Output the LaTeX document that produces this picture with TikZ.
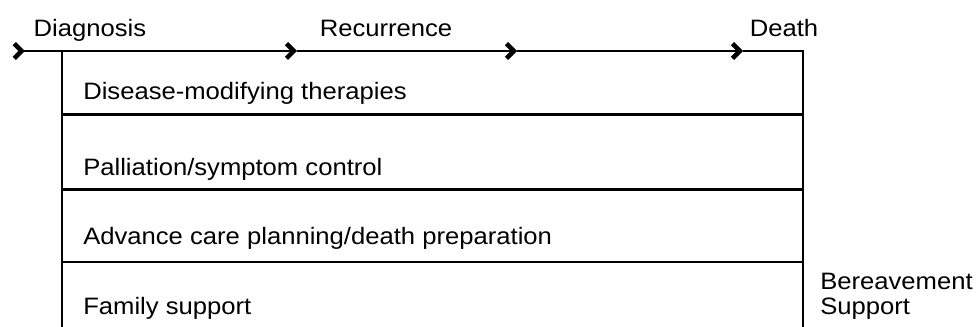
\documentclass[tikz,border=0pt]{standalone}
\usepackage{fontspec}
\setmainfont{Liberation Sans}[FakeStretch=1.08]
\usetikzlibrary{arrows.meta, positioning}

\begin{document}
\begin{tikzpicture}[
  x=0.75pt, y=-0.75pt,
  lbl/.style={anchor=base, inner sep=0pt, font=\fontsize{17.8}{21}\selectfont},
  rowtxt/.style={lbl, anchor=base west},
  rule/.style={line width=2.2pt},
  barb/.tip={Straight Barb[length=5.5pt, width=11pt, line width=3.4pt]},
  rbarb/.tip={Straight Barb[reversed, length=5.5pt, width=11pt, line width=3.4pt]}
]
\useasboundingbox (0,0) rectangle (978,327);

% time line
\coordinate (tstart) at (12,51);
\coordinate (tdx)    at (62,51);
\coordinate (a1)     at (297,51);
\coordinate (a2)     at (517,51);
\coordinate (a3)     at (743,51);
\coordinate (tend)   at (803,51);
\coordinate (bl)     at (62,327);
\coordinate (br)     at (803,327);

\draw[rule, rbarb-barb] (tstart) -- (a1);
\draw[rule, -barb] (a1) -- (a2);
\draw[rule, -barb] (a2) -- (a3);
\draw[rule] (a3) -- (tend) -- (br);
\draw[rule] (tdx) -- (bl);

\node[lbl] (dx)    at (90,37)  {Diagnosis};
\node[lbl] (rec)   at (386,37) {Recurrence};
\node[lbl] (death) at (784,37) {Death};

% rows
\foreach \y in {114.5, 189.5, 262}
  \draw[rule] (tdx |- 0,\y) -- (tend |- 0,\y);

\node[rowtxt] (dmt)  at (83,100) {Disease-modifying therapies};
\node[rowtxt] (pall) at (83,176) {Palliation/symptom control};
\node[rowtxt] (acp)  at (83,245) {Advance care planning/death preparation};
\node[rowtxt] (fam)  at (83,315) {Family support};

\node[rowtxt] (bereav) at (820,290) {Bereavement};
\node[rowtxt] (supp)   at (820,315) {Support};
\end{tikzpicture}
\end{document}
